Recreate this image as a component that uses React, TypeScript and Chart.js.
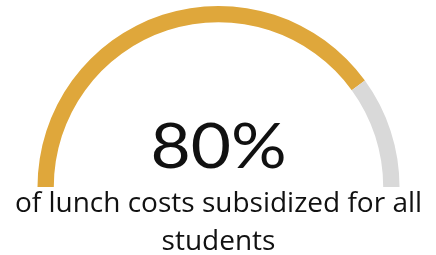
import React, { useEffect, useRef } from "react";
import { Chart, registerables } from "chart.js";

Chart.register(...registerables);

const categories = ["Subsidized", "Not subsidized"];
const values = [80, 20];
const colors = ["#DFA73B", "#D9D9D9"];
const centerLabel = "80%";
const captionLines = ["of lunch costs subsidized for all", "students"];

const textPlugin = {
  id: "gaugeText",
  afterDraw(chart: any) {
    const ctx = chart.ctx;
    const meta = chart.getDatasetMeta(0);
    const arc = meta.data[0];
    if (!arc) return;
    const cx = arc.x;
    const cy = arc.y;
    ctx.save();
    ctx.fillStyle = "#111111";
    ctx.textAlign = "center";
    ctx.textBaseline = "alphabetic";
    ctx.save();
    ctx.translate(cx, cy - 19);
    ctx.scale(1.12, 1);
    ctx.font = "400 62px Lato";
    ctx.fillText(centerLabel, 0, 0);
    ctx.restore();
    ctx.font = "400 28px 'Open Sans'";
    ctx.fillText(captionLines[0], cx, cy + 25);
    ctx.fillText(captionLines[1], cx, cy + 63);
    ctx.restore();
  },
};

export default function App() {
  const ref = useRef<HTMLCanvasElement>(null);
  useEffect(() => {
    document.body.style.margin = "0";
    if (!ref.current) return;
    const chart = new Chart(ref.current, {
      type: "doughnut",
      data: {
        labels: categories,
        datasets: [
          {
            data: values,
            backgroundColor: colors,
            borderWidth: 0,
          },
        ],
      },
      options: {
        animation: false,
        responsive: false,
        rotation: -90,
        circumference: 180,
        cutout: "91%",
        layout: { padding: { left: 37, right: 36, top: 6, bottom: 68 } },
        plugins: {
          legend: { display: false },
          tooltip: { enabled: false },
        },
      },
      plugins: [textPlugin],
    });
    return () => chart.destroy();
  }, []);
  return (
    <div style={{ position: "absolute", left: 0, top: 0, width: 436, height: 255 }}>
      <canvas ref={ref} width={436} height={255} style={{ width: 436, height: 255 }} />
    </div>
  );
}
